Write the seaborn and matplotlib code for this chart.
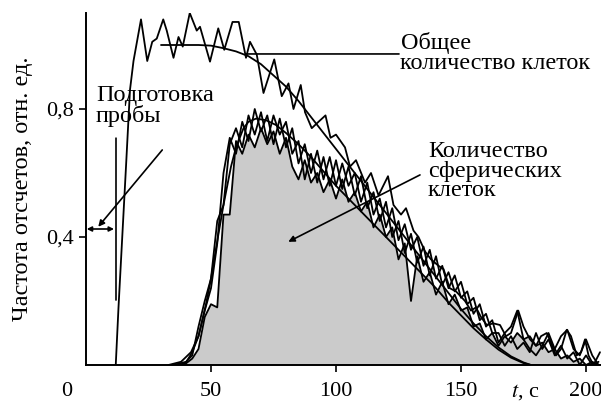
import numpy as np
import pandas as pd
import matplotlib
matplotlib.use("Agg")
import matplotlib.pyplot as plt
import seaborn as sns

# ---- data ----
# total cell count (noisy record)
total_t = [11.9, 13, 14.5, 16, 17.6, 19, 22, 24.5, 26.5, 28.3, 30.9, 32.3, 35, 37, 38.7,
           41.5, 44.3, 45.6, 49.6, 52.9, 55.3, 58.6, 61.1, 64, 65.6, 68.3, 71, 75.3, 78.3,
           81, 83, 85.9, 87.6, 90.3, 93, 95.8, 97.8, 100, 103.6, 105.6, 108, 111.6, 114,
           117, 120.8, 123, 126, 128, 131, 133, 135.6, 138, 141, 143, 145.5, 148, 151.6,
           154, 156, 158, 160.3, 163, 165.6, 168, 170, 172.9, 175, 177.6, 180, 182, 184.3,
           186, 188, 190, 192.3, 194, 196.3, 198, 199.6, 201, 203, 205.6]
total_v = [0.0, 0.18, 0.40, 0.62, 0.86, 0.95, 1.08, 0.95, 1.01, 1.02, 1.08, 1.045, 0.96, 1.025, 0.995,
           1.10, 1.045, 1.057, 0.948, 1.052, 0.985, 1.072, 1.072, 0.96, 1.01, 0.97, 0.85, 0.955, 0.84,
           0.88, 0.80, 0.875, 0.79, 0.74, 0.76, 0.78, 0.71, 0.72, 0.68, 0.62, 0.64, 0.57, 0.60,
           0.53, 0.59, 0.50, 0.47, 0.49, 0.42, 0.40, 0.355, 0.33, 0.31, 0.30, 0.24, 0.23, 0.20,
           0.17, 0.18, 0.15, 0.125, 0.13, 0.125, 0.09, 0.10, 0.17, 0.12, 0.08, 0.06, 0.09, 0.10,
           0.07, 0.03, 0.05, 0.11, 0.09, 0.03, 0.04, 0.08, 0.03, 0.0, 0.04]

# smooth fit of total count
total_fit_t = [30, 35, 40, 45, 50, 55, 60, 65, 70, 75, 80, 85, 90, 95, 100, 105, 110, 115,
               120, 125, 130, 135, 140, 145, 150, 155, 160, 165, 170, 175, 178, 206]
total_fit_v = [1.0, 1.0, 1.0, 1.0, 0.998, 0.99, 0.98, 0.965, 0.94, 0.905, 0.87, 0.825, 0.775,
               0.725, 0.675, 0.625, 0.575, 0.525, 0.475, 0.425, 0.375, 0.325, 0.275, 0.225,
               0.175, 0.13, 0.09, 0.055, 0.027, 0.008, 0.0, 0.0]

# spherical cells: three noisy records on a common time grid
sph_t = np.arange(35, 205.1, 2.5)
sph_a = [0, 0, 0.005, 0.02, 0.05, 0.15, 0.19, 0.18, 0.47, 0.47, 0.70, 0.66, 0.72, 0.68, 0.74,
         0.69, 0.73, 0.66, 0.71, 0.62, 0.58, 0.64, 0.57, 0.60,
         0.54, 0.58, 0.52, 0.58, 0.51, 0.54, 0.48, 0.51, 0.43, 0.47, 0.40, 0.43, 0.33, 0.38,
         0.20, 0.34, 0.26, 0.29, 0.22, 0.26, 0.19, 0.22, 0.17, 0.18, 0.12, 0.13, 0.08, 0.10,
         0.06, 0.09, 0.07, 0.10, 0.08, 0.09, 0.06, 0.07, 0.04, 0.05, 0.02, 0.03, 0.01, 0.02,
         0.0, 0.01, 0.0]
sph_b = [0, 0.005, 0.01, 0.03, 0.12, 0.20, 0.27, 0.45, 0.50, 0.69, 0.74, 0.68, 0.78, 0.72, 0.79,
         0.70, 0.78, 0.72, 0.76, 0.66, 0.70, 0.58, 0.66, 0.57,
         0.65, 0.56, 0.64, 0.55, 0.62, 0.53, 0.59, 0.49, 0.54, 0.45, 0.51, 0.40, 0.45, 0.35,
         0.41, 0.32, 0.37, 0.28, 0.34, 0.25, 0.29, 0.23, 0.26, 0.19, 0.21, 0.14, 0.16, 0.10,
         0.10, 0.06, 0.09, 0.05, 0.07, 0.04, 0.10, 0.05, 0.08, 0.03, 0.06, 0.02, 0.04, 0.0,
         0.03, 0.0, 0.01]
sph_c = [0, 0, 0.008, 0.04, 0.09, 0.17, 0.24, 0.38, 0.60, 0.71, 0.66, 0.76, 0.70, 0.80, 0.73,
         0.78, 0.69, 0.77, 0.68, 0.74, 0.63, 0.69, 0.60, 0.67,
         0.58, 0.65, 0.56, 0.63, 0.56, 0.60, 0.51, 0.57, 0.47, 0.52, 0.43, 0.49, 0.39, 0.44,
         0.36, 0.40, 0.31, 0.36, 0.27, 0.31, 0.24, 0.28, 0.21, 0.23, 0.16, 0.19, 0.12, 0.14,
         0.07, 0.10, 0.12, 0.17, 0.08, 0.05, 0.03, 0.06, 0.10, 0.05, 0.09, 0.11, 0.05, 0.03,
         0.08, 0.03, 0.0]

# smooth fit of spherical count
sph_fit_t = [33, 38, 42, 45, 48, 50, 53, 55, 58, 60, 63, 65, 68, 72, 76, 80, 85, 90, 95, 100,
             105, 110, 115, 120, 125, 130, 135, 140, 145, 150, 155, 160, 165, 170, 175, 178]
sph_fit_v = [0.0, 0.01, 0.04, 0.09, 0.19, 0.27, 0.41, 0.50, 0.62, 0.68, 0.74, 0.76, 0.77, 0.765,
             0.75, 0.725, 0.69, 0.65, 0.605, 0.56, 0.52, 0.48, 0.44, 0.40, 0.36, 0.32, 0.28,
             0.24, 0.195, 0.155, 0.115, 0.08, 0.048, 0.023, 0.006, 0.0]

x_ticks = [50, 100, 150, 200]
y_ticks = [0.4, 0.8]
y_tick_labels = ["0,4", "0,8"]

# ---- style ----
sns.set_style("ticks")
plt.rcParams["font.family"] = ["Liberation Serif", "DejaVu Serif"]
plt.rcParams["mathtext.fontset"] = "stix"
plt.rcParams["text.color"] = "black"
plt.rcParams["axes.labelcolor"] = "black"

fig = plt.figure(figsize=(6.01, 4.01), dpi=100)
ax = fig.add_axes([86 / 601, 36 / 401, 515 / 601, 352 / 401])

lw = 1.3
ax.fill_between(sph_t, sph_a, 0, color="#cbcbcb", lw=0, zorder=1)

for xs, ys in [(sph_t, sph_a), (sph_t, sph_b), (sph_t, sph_c),
               (total_t, total_v), (total_fit_t, total_fit_v), (sph_fit_t, sph_fit_v)]:
    sns.lineplot(x=xs, y=ys, ax=ax, color="black", lw=lw, estimator=None, sort=False, zorder=2)

ax.set_xlim(0, 206)
ax.set_ylim(0, 1.1)
sns.despine(ax=ax)
for s in ["left", "bottom"]:
    ax.spines[s].set_linewidth(1.4)
    ax.spines[s].set_color("black")

ax.set_xticks(x_ticks)
ax.set_yticks(y_ticks)
ax.set_yticklabels(y_tick_labels)
ax.tick_params(axis="both", direction="out", length=5, width=1.2, colors="black", labelsize=16)
ax.tick_params(axis="x", pad=7)
ax.tick_params(axis="y", pad=4)

fs = 17.5
ax.set_ylabel("Частота отсчетов, отн. ед.", fontsize=fs)
ax.yaxis.set_label_coords(-0.103, 0.5)

# "0" label and axis caption drawn in the tick label row
ax.annotate("0", xy=(-7.6, 0), xycoords=("data", "axes fraction"), xytext=(0, -12),
            textcoords="offset points", ha="center", va="top", fontsize=16)
ax.annotate("$t$, с", xy=(175.6, 0), xycoords=("data", "axes fraction"), xytext=(0, -12),
            textcoords="offset points", ha="center", va="top", fontsize=16)

# annotations
seg = dict(arrowstyle="-", color="black", lw=1.2, shrinkA=0, shrinkB=0)
head = dict(arrowstyle="-|>", color="black", lw=1.2, shrinkA=0, shrinkB=0, mutation_scale=9)
both = dict(arrowstyle="<|-|>", color="black", lw=1.2, shrinkA=0, shrinkB=0, mutation_scale=7)

ax.annotate("", xy=(64, 0.972), xytext=(125.2, 0.972), arrowprops=seg, zorder=3)
ax.text(125.8, 1.04, "Общее\nколичество клеток", fontsize=fs, ha="left", va="top",
        linespacing=0.92)

ax.text(4.0, 0.875, "Подготовка\nпробы", fontsize=fs, ha="left", va="top", linespacing=0.92)
ax.annotate("", xy=(12, 0.203), xytext=(12, 0.709), arrowprops=seg)
ax.annotate("", xy=(0.3, 0.425), xytext=(11.2, 0.425), arrowprops=both)
ax.annotate("", xy=(4.9, 0.432), xytext=(30.5, 0.672), arrowprops=head)

ax.text(136.8, 0.70, "Количество\nсферических\nклеток", fontsize=fs, ha="left", va="top",
        linespacing=0.92)
ax.annotate("", xy=(80.9, 0.385), xytext=(133.6, 0.594), arrowprops=head)

fig.savefig("out.png", dpi=100)
